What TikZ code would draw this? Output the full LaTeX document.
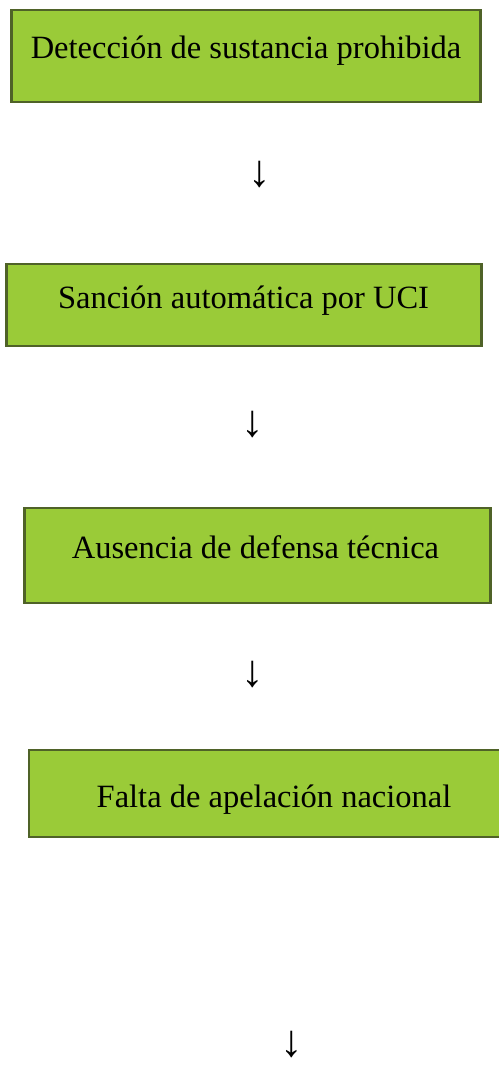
\documentclass[tikz,border=0pt]{standalone}
\usepackage{fontspec}
\setmainfont{Liberation Serif}
\definecolor{boxfill}{HTML}{9ACB38}
\definecolor{boxline}{HTML}{4F6228}
\begin{document}
\begin{tikzpicture}[x=1pt,y=-1pt,
  stepbox/.style={draw=boxline,fill=boxfill,line width=2.6pt,inner sep=0pt},
  steptext/.style={font=\fontsize{32.5}{36}\selectfont,inner sep=0pt,anchor=base},
  downarrow/.style={font=\fontsize{45}{48}\selectfont,inner sep=0pt,anchor=center}]
\useasboundingbox[fill=white] (0,0) rectangle (498,1067);
% boxes
\node[stepbox,minimum width=469pt,minimum height=92pt] (b1) at (246,56) {};
\node[stepbox,minimum width=475pt,minimum height=82pt] (b2) at (244,305) {};
\node[stepbox,minimum width=466pt,minimum height=95pt] (b3) at (257.5,555.5) {};
\node[stepbox,minimum width=474pt,minimum height=87pt] (b4) at (266,793.5) {};
% texts
\node[steptext] (t1) at (246,59) {Detección de sustancia prohibida};
\node[steptext] (t2) at (243.5,308) {Sanción automática por UCI};
\node[steptext] (t3) at (255.5,558) {Ausencia de defensa técnica};
\node[steptext] (t4) at (274,807) {Falta de apelación nacional};
% arrows
\node[downarrow] (a1) at (260,175) {↓};
\node[downarrow] (a2) at (252.5,425) {↓};
\node[downarrow] (a3) at (252.5,675) {↓};
\node[downarrow] (a4) at (292,1044.5) {↓};
\end{tikzpicture}
\end{document}
